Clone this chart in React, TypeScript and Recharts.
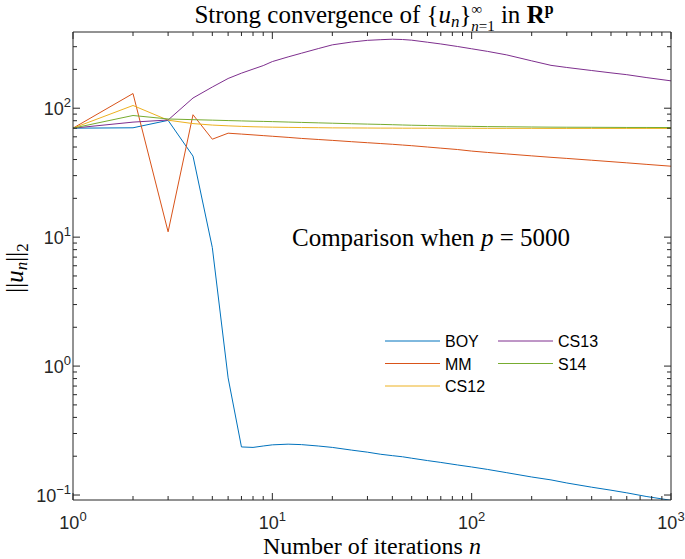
import React from 'react';
import { LineChart, Line, XAxis, YAxis, Legend, Customized } from 'recharts';

const iterations = [1, 2, 3, 4, 5, 6, 7, 8, 9, 10, 12, 14, 17, 20, 25, 30, 35, 40, 45, 50, 60, 70, 85, 100, 120, 150, 200, 250, 300, 400, 500, 600, 750, 1000];
const boy = [70, 70.5, 80.5, 42.5, 8.3, 0.81, 0.236, 0.234, 0.24, 0.245, 0.248, 0.246, 0.24, 0.234, 0.223, 0.215, 0.207, 0.202, 0.198, 0.193, 0.185, 0.179, 0.171, 0.165, 0.158, 0.149, 0.138, 0.131, 0.124, 0.115, 0.109, 0.104, 0.0975, 0.091];
const mm = [70, 130, 11, 89, 57.5, 64, 63, 62.1, 61.3, 60.6, 59.4, 58.3, 57.2, 56.3, 55, 54, 53.2, 52.5, 51.8, 51.2, 50, 49, 47.8, 46.5, 45.4, 44.2, 42.7, 41.6, 40.8, 39.5, 38.5, 37.7, 36.7, 35.5];
const cs12 = [70, 105, 80.7, 76, 74, 73, 72.3, 71.8, 71.5, 71.3, 71, 70.8, 70.6, 70.4, 70.3, 70.2, 70.1, 70.1, 70, 70, 70, 69.9, 69.9, 69.9, 69.8, 69.8, 69.8, 69.7, 69.7, 69.7, 69.7, 69.7, 69.7, 69.7];
const cs13 = [70, 78, 81, 120, 146, 170, 187, 201, 214, 230, 250, 267, 290, 310, 326, 336, 340, 343, 341, 337, 325, 315, 301, 289, 276, 259, 233, 215, 207, 196, 188, 182, 173, 163];
const s14 = [70, 87.8, 82.5, 81.5, 80.8, 80.2, 79.7, 79.3, 79, 78.7, 78.1, 77.6, 77, 76.5, 75.8, 75.3, 74.9, 74.5, 74.1, 73.8, 73.4, 73, 72.6, 72.3, 72, 71.8, 71.5, 71.3, 71.2, 71.1, 71, 70.9, 70.9, 70.8];

const seriesNames = ['BOY', 'MM', 'CS12', 'CS13', 'S14'];
const seriesColors = ['#0072BD', '#D95319', '#EDB120', '#7E2F8E', '#77AC30'];
const seriesValues = [boy, mm, cs12, cs13, s14];

const xTicks = [1, 2, 3, 4, 5, 6, 7, 8, 9, 10, 20, 30, 40, 50, 60, 70, 80, 90, 100, 200, 300, 400, 500, 600, 700, 800, 900, 1000];
const yTicks = [0.1, 0.2, 0.3, 0.4, 0.5, 0.6, 0.7, 0.8, 0.9, 1, 2, 3, 4, 5, 6, 7, 8, 9, 10, 20, 30, 40, 50, 60, 70, 80, 90, 100, 200, 300];
const xDomain = [1, 1000];
const yDomain = [0.0915, 390];

const table = iterations.map((n, i) => {
  const row: any = { n };
  seriesNames.forEach((s, k) => { row[s] = seriesValues[k][i]; });
  return row;
});

const AXIS = '#262626';
const SANS = '"Liberation Sans", Arial, Helvetica, sans-serif';
const SERIF = '"Liberation Serif", "Times New Roman", serif';
const MAJ = 7;
const MIN = 4;

const isMajor = (v: number) => Math.abs(Math.log10(v) - Math.round(Math.log10(v))) < 1e-9;
const expLabel = (v: number) => {
  const e = Math.round(Math.log10(v));
  return e < 0 ? '\u2212' + (-e) : String(e);
};

const BottomTick = (props: any) => {
  const { x, y, payload } = props;
  const v = payload.value;
  const major = isMajor(v);
  return (
    <g>
      <line x1={x} x2={x} y1={y} y2={y - (major ? MAJ : MIN)} stroke={AXIS} strokeWidth={1} />
      {major && (
        <text x={x} y={y + 28.5} textAnchor="middle" fontFamily={SANS} fontSize={18} fill={AXIS}>
          10<tspan dy={-8} fontSize={13}>{expLabel(v)}</tspan>
        </text>
      )}
    </g>
  );
};

const TopTick = (props: any) => {
  const { x, y, payload } = props;
  const major = isMajor(payload.value);
  return <line x1={x} x2={x} y1={y} y2={y + (major ? MAJ : MIN)} stroke={AXIS} strokeWidth={1} />;
};

const LeftTick = (props: any) => {
  const { x, y, payload } = props;
  const v = payload.value;
  const major = isMajor(v);
  return (
    <g>
      <line x1={x} x2={x + (major ? MAJ : MIN)} y1={y} y2={y} stroke={AXIS} strokeWidth={1} />
      {major && (
        <text x={x - 2} y={y + 7} textAnchor="end" fontFamily={SANS} fontSize={18} fill={AXIS}>
          10<tspan dy={-8} fontSize={13}>{expLabel(v)}</tspan>
        </text>
      )}
    </g>
  );
};

const RightTick = (props: any) => {
  const { x, y, payload } = props;
  const major = isMajor(payload.value);
  return <line x1={x} x2={x - (major ? MAJ : MIN)} y1={y} y2={y} stroke={AXIS} strokeWidth={1} />;
};

const Annotations = () => (
  <g>
    <text x={374} y={23} textAnchor="middle" fontFamily={SERIF} fontSize={25} fill="#000">
      Strong convergence of {'{'}
      <tspan fontStyle="italic">u</tspan>
      <tspan fontStyle="italic" fontSize={17} dy={4}>n</tspan>
      <tspan dy={-4}>{'}'}</tspan>
      <tspan fontSize={15} dy={-9}>{'\u221E'}</tspan>
      <tspan fontSize={15} fontStyle="italic" dx={-11} dy={17}>n</tspan>
      <tspan fontSize={15}>=1</tspan>
      <tspan dy={-8}> in </tspan>
      <tspan fontWeight="bold">R</tspan>
      <tspan fontWeight="bold" fontSize={16} dy={-9}>p</tspan>
    </text>
    <text x={372} y={554} textAnchor="middle" fontFamily={SERIF} fontSize={24} fill="#000">
      Number of iterations <tspan fontStyle="italic">n</tspan>
    </text>
    <text x={23} y={268} textAnchor="middle" fontFamily={SERIF} fontSize={25} fill="#000" transform="rotate(-90 23 268)">
      ||<tspan fontStyle="italic">u</tspan>
      <tspan fontStyle="italic" fontSize={17} dy={4}>n</tspan>
      <tspan dy={-4}>||</tspan>
      <tspan fontSize={17} dy={5}>2</tspan>
    </text>
    <text x={292} y={246} fontFamily={SERIF} fontSize={25} fill="#000">
      Comparison when <tspan fontStyle="italic">p</tspan> = 5000
    </text>
  </g>
);

const renderLegend = (props: any) => {
  const payload = [...(props.payload || [])].sort(
    (a: any, b: any) => seriesNames.indexOf(a.value) - seriesNames.indexOf(b.value)
  );
  return (
    <svg width={260} height={70} style={{ display: 'block' }}>
      {payload.map((p: any, i: number) => {
        const col = Math.floor(i / 3);
        const row = i % 3;
        const x0 = col * 113;
        const y0 = 12 + row * 22.5;
        return (
          <g key={p.value}>
            <line x1={x0} x2={x0 + 55} y1={y0} y2={y0} stroke={p.color} strokeWidth={1} />
            <text x={x0 + 60} y={y0 + 6} fontFamily={SANS} fontSize={16} fill="#000">{p.value}</text>
          </g>
        );
      })}
    </svg>
  );
};

export default function App() {
  return (
    <div style={{ position: 'absolute', left: 0, top: 0, width: 685, height: 559, background: '#fff' }}>
      <LineChart width={685} height={559} data={table} margin={{ top: 31, right: 13, bottom: 58, left: 0 }}>
        <XAxis
          dataKey="n"
          type="number"
          scale="log"
          domain={xDomain}
          allowDataOverflow
          ticks={xTicks}
          interval={0}
          height={1}
          tickSize={0}
          tickMargin={0}
          tickLine={false}
          tick={<BottomTick />}
          axisLine={{ stroke: AXIS }}
        />
        <XAxis
          xAxisId="top"
          orientation="top"
          dataKey="n"
          type="number"
          scale="log"
          domain={xDomain}
          allowDataOverflow
          ticks={xTicks}
          interval={0}
          height={1}
          tickSize={0}
          tickMargin={0}
          tickLine={false}
          tick={<TopTick />}
          axisLine={{ stroke: AXIS }}
        />
        <YAxis
          type="number"
          scale="log"
          domain={yDomain}
          allowDataOverflow
          ticks={yTicks}
          interval={0}
          width={73}
          tickSize={0}
          tickMargin={0}
          tickLine={false}
          tick={<LeftTick />}
          axisLine={{ stroke: AXIS }}
        />
        <YAxis
          yAxisId="right"
          orientation="right"
          type="number"
          scale="log"
          domain={yDomain}
          allowDataOverflow
          ticks={yTicks}
          interval={0}
          width={1}
          tickSize={0}
          tickMargin={0}
          tickLine={false}
          tick={<RightTick />}
          axisLine={{ stroke: AXIS }}
        />
        {seriesNames.map((s, k) => (
          <Line
            key={s}
            dataKey={s}
            name={s}
            type="linear"
            stroke={seriesColors[k]}
            strokeWidth={1}
            dot={false}
            activeDot={false}
            isAnimationActive={false}
          />
        ))}
        <Legend
          layout="vertical"
          align="center"
          verticalAlign="middle"
          wrapperStyle={{ position: 'absolute', left: 385, top: 329, width: 260, height: 70 }}
          content={renderLegend}
        />
        <Customized component={Annotations} />
      </LineChart>
    </div>
  );
}
